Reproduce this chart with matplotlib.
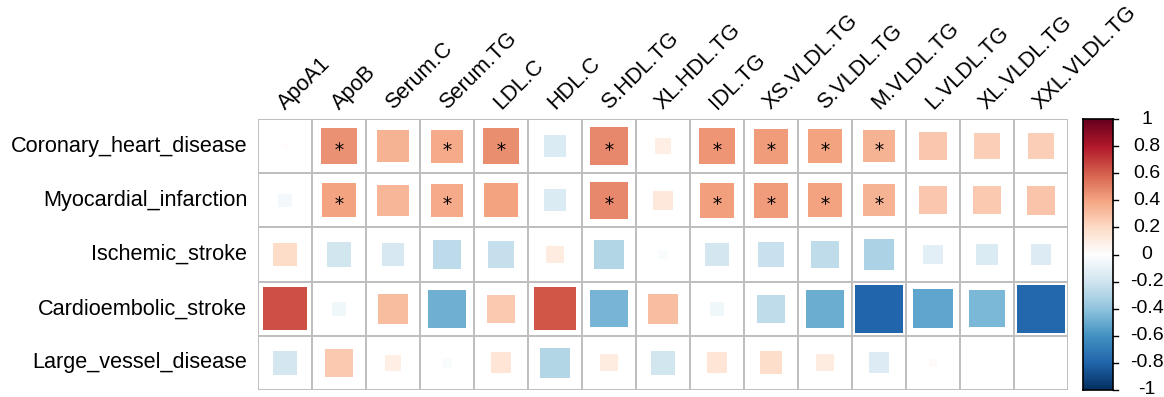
import numpy as np
import matplotlib
matplotlib.use("Agg")
import matplotlib.pyplot as plt
from matplotlib.colors import LinearSegmentedColormap, Normalize
from matplotlib.patches import Rectangle
from matplotlib import transforms

plt.rcParams['font.family'] = ['Liberation Sans', 'DejaVu Sans']

# Lipid traits (columns) and outcomes (rows)
traits = ["ApoA1", "ApoB", "Serum.C", "Serum.TG", "LDL.C", "HDL.C", "S.HDL.TG",
          "XL.HDL.TG", "IDL.TG", "XS.VLDL.TG", "S.VLDL.TG", "M.VLDL.TG",
          "L.VLDL.TG", "XL.VLDL.TG", "XXL.VLDL.TG"]
outcomes = ["Coronary_heart_disease", "Myocardial_infarction", "Ischemic_stroke",
            "Cardioembolic_stroke", "Large_vessel_disease"]

# Correlation / effect estimates, one list per outcome
coronary_heart_disease = [0.01, 0.45, 0.34, 0.37, 0.46, -0.16, 0.48, 0.09,
                          0.44, 0.42, 0.40, 0.34, 0.27, 0.24, 0.24]
myocardial_infarction = [-0.06, 0.40, 0.33, 0.37, 0.40, -0.16, 0.48, 0.13,
                         0.41, 0.42, 0.40, 0.34, 0.27, 0.26, 0.28]
ischemic_stroke = [0.19, -0.20, -0.18, -0.27, -0.24, 0.10, -0.30, -0.03,
                   -0.19, -0.23, -0.26, -0.32, -0.13, -0.16, -0.15]
cardioembolic_stroke = [0.64, -0.07, 0.31, -0.49, 0.26, 0.62, -0.47, 0.30,
                        -0.07, -0.26, -0.50, -0.79, -0.53, -0.46, -0.78]
large_vessel_disease = [-0.19, 0.26, 0.09, -0.03, 0.15, -0.30, 0.10, -0.20,
                        0.15, 0.18, 0.10, -0.15, 0.02, 0.0, 0.0]

# Significance flags (1 = marked with an asterisk)
sig_coronary = [0, 1, 0, 1, 1, 0, 1, 0, 1, 1, 1, 1, 0, 0, 0]
sig_myocardial = [0, 1, 0, 1, 0, 0, 1, 0, 1, 1, 1, 1, 0, 0, 0]
sig_ischemic = [0] * 15
sig_cardioembolic = [0] * 15
sig_large_vessel = [0] * 15

values = np.array([coronary_heart_disease, myocardial_infarction, ischemic_stroke,
                   cardioembolic_stroke, large_vessel_disease])
signif = np.array([sig_coronary, sig_myocardial, sig_ischemic,
                   sig_cardioembolic, sig_large_vessel])

colorbar_ticks = [1, 0.8, 0.6, 0.4, 0.2, 0, -0.2, -0.4, -0.6, -0.8, -1]

rdbu = ["#053061", "#2166AC", "#4393C3", "#92C5DE", "#D1E5F0", "#FFFFFF",
        "#FDDBC7", "#F4A582", "#D6604D", "#B2182B", "#67001F"]
cmap = LinearSegmentedColormap.from_list("rdbu_corr", rdbu, N=200)
norm = Normalize(-1, 1)

W, H = 1164, 397
fig = plt.figure(figsize=(W / 100, H / 100), dpi=100)

gx0, gx1, gy0, gy1 = 258, 1068, 119, 390
ax = fig.add_axes([gx0 / W, 1 - gy1 / H, (gx1 - gx0) / W, (gy1 - gy0) / H])
nrow, ncol = values.shape
ax.set_xlim(0, ncol)
ax.set_ylim(nrow, 0)
ax.axis("off")

grid_color = "#BEBEBE"
for i in range(nrow):
    for j in range(ncol):
        ax.add_patch(Rectangle((j, i), 1, 1, facecolor="white",
                               edgecolor=grid_color, lw=1.4, zorder=1))
        v = values[i, j]
        side = np.sqrt(abs(v))
        if side > 0:
            ax.add_patch(Rectangle((j + 0.5 - side / 2, i + 0.5 - side / 2),
                                   side, side, facecolor=cmap(norm(v)),
                                   edgecolor="none", zorder=2))

ri, ci = np.nonzero(signif)
ax.scatter(ci + 0.5, ri + 0.5, marker="$*$", s=38, color="black",
           linewidths=0, zorder=3)

# Row labels
for i, name in enumerate(outcomes):
    ax.text(-0.2, i + 0.5, name, ha="right", va="center", fontsize=15.6,
            color="black", clip_on=False)

# Column labels, rotated
lab_off = transforms.offset_copy(ax.transData, fig=fig, x=0, y=9, units="dots")
for j, name in enumerate(traits):
    ax.text(j + 0.5, 0, name, rotation=45, rotation_mode="anchor",
            ha="left", va="baseline", fontsize=15.6, color="black",
            transform=lab_off, clip_on=False)

# Colour legend
cx0, cx1 = 1083, 1113
cax = fig.add_axes([cx0 / W, 1 - gy1 / H, (cx1 - cx0) / W, (gy1 - gy0) / H])
grad = np.linspace(-1, 1, 200).reshape(-1, 1)
cax.imshow(grad, aspect="auto", cmap=cmap, norm=norm, origin="lower",
           extent=(0, 1, -1, 1))
cax.set_xlim(0, 1)
cax.set_ylim(-1, 1)
cax.set_xticks([])
cax.set_yticks([])
for s in cax.spines.values():
    s.set_color("black")
    s.set_linewidth(1.2)
for t in colorbar_ticks:
    cax.plot([1, 1.15], [t, t], color="black", lw=1.0, clip_on=False)
lab_tr = transforms.blended_transform_factory(fig.transFigure, cax.transData)
for t in colorbar_ticks:
    cax.text(1147 / W, t, f"{t:g}", ha="center", va="center", fontsize=14,
             transform=lab_tr, clip_on=False)

fig.savefig("out.png", dpi=100)
